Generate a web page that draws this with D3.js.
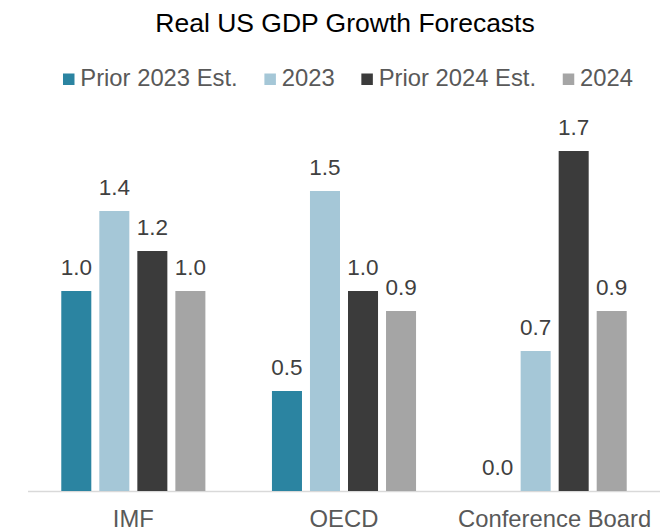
<!DOCTYPE html>
<html>
<head>
<meta charset="utf-8">
<script src="https://cdn.jsdelivr.net/npm/d3@7"></script>
<style>
  body { margin: 0; background: #fff; }
  svg { display: block; font-family: "Liberation Sans", Arial, sans-serif; }
</style>
</head>
<body>
<svg id="chart" width="669" height="531"></svg>
<script>
const categories = ["IMF", "OECD", "Conference Board"];
const seriesNames = ["Prior 2023 Est.", "2023", "Prior 2024 Est.", "2024"];
const prior2023 = [1.0, 0.5, 0.0];
const est2023 = [1.4, 1.5, 0.7];
const prior2024 = [1.2, 1.0, 1.7];
const est2024 = [1.0, 0.9, 0.9];
const seriesColors = ["#2b84a1", "#a5c7d7", "#3b3b3b", "#a5a5a5"];

const seriesValues = [prior2023, est2023, prior2024, est2024];
const rows = categories.map((c, i) => ({
    category: c,
    values: seriesNames.map((s, k) => ({ series: s, value: seriesValues[k][i] }))
}));

const svg = d3.select("#chart");
const baseline = 491;

const x0 = d3.scaleBand()
    .domain(categories)
    .range([28, 660])
    .paddingInner(0.316)
    .paddingOuter(0.158);

const x1 = d3.scaleBand()
    .domain(seriesNames)
    .range([0, x0.bandwidth()])
    .paddingInner(8 / 38);

const y = d3.scaleLinear()
    .domain([0, 1.7])
    .range([baseline, 151]);

const color = d3.scaleOrdinal().domain(seriesNames).range(seriesColors);

// title
svg.append("text")
    .attr("x", 345)
    .attr("y", 31.5)
    .attr("text-anchor", "middle")
    .attr("font-size", 26.5)
    .attr("fill", "#000")
    .text("Real US GDP Growth Forecasts");

// legend, laid out from measured text widths
const legend = svg.append("g");
let lx = 0;
seriesNames.forEach((s, i) => {
    const item = legend.append("g").attr("transform", `translate(${lx},0)`);
    item.append("rect")
        .attr("x", 0).attr("y", -12.5)
        .attr("width", 11.5).attr("height", 11.5)
        .attr("fill", color(s));
    const t = item.append("text")
        .attr("x", 17.3)
        .attr("y", 0)
        .attr("font-size", 23.8)
        .attr("fill", "#595959")
        .text(s);
    lx += 17.3 + t.node().getComputedTextLength() + 26.7;
});
const legendWidth = lx - 26.7;
legend.attr("transform", `translate(${348 - legendWidth / 2},86)`);

// axis line
svg.append("line")
    .attr("x1", 28).attr("x2", 660)
    .attr("y1", baseline + 0.5).attr("y2", baseline + 0.5)
    .attr("stroke", "#d9d9d9")
    .attr("stroke-width", 1.5);

const groups = svg.selectAll("g.group")
    .data(rows)
    .join("g")
    .attr("class", "group")
    .attr("transform", d => `translate(${x0(d.category)},0)`);

groups.selectAll("rect")
    .data(d => d.values)
    .join("rect")
    .attr("x", d => x1(d.series))
    .attr("y", d => y(d.value))
    .attr("width", x1.bandwidth())
    .attr("height", d => baseline - y(d.value))
    .attr("fill", d => color(d.series));

groups.selectAll("text.val")
    .data(d => d.values)
    .join("text")
    .attr("class", "val")
    .attr("x", d => x1(d.series) + x1.bandwidth() / 2)
    .attr("y", d => y(d.value) - 16)
    .attr("text-anchor", "middle")
    .attr("font-size", 22.5)
    .attr("fill", "#404040")
    .text(d => d.value.toFixed(1));

// category labels
svg.append("g")
    .selectAll("text")
    .data(categories)
    .join("text")
    .attr("x", d => x0(d) + x0.bandwidth() / 2)
    .attr("y", 526.5)
    .attr("text-anchor", "middle")
    .attr("font-size", 23.8)
    .attr("fill", "#595959")
    .text(d => d);
</script>
</body>
</html>
